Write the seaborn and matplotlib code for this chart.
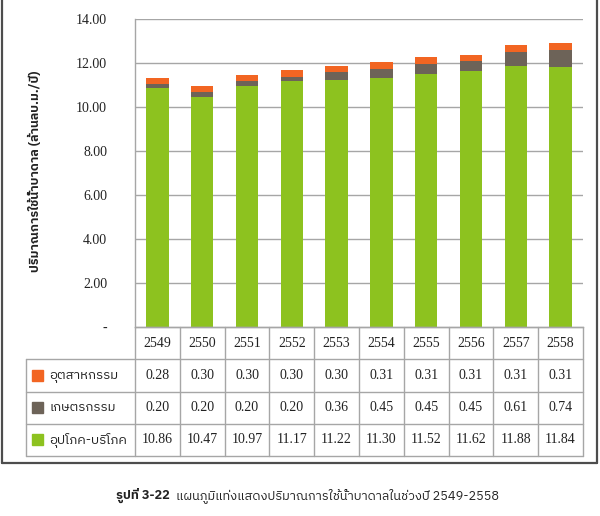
import numpy as np
import pandas as pd
import matplotlib
matplotlib.use("Agg")
import matplotlib.pyplot as plt
import seaborn as sns
from matplotlib import font_manager
from matplotlib.ft2font import FT2Font
from matplotlib.patches import Rectangle
from matplotlib.lines import Line2D

# ---------------- data ----------------
years = ["2549", "2550", "2551", "2552", "2553", "2554", "2555", "2556", "2557", "2558"]
industry = [0.28, 0.30, 0.30, 0.30, 0.30, 0.31, 0.31, 0.31, 0.31, 0.31]
agriculture = [0.20, 0.20, 0.20, 0.20, 0.36, 0.45, 0.45, 0.45, 0.61, 0.74]
domestic = [10.86, 10.47, 10.97, 11.17, 11.22, 11.30, 11.52, 11.62, 11.88, 11.84]
series_names = ["อุตสาหกรรม", "เกษตรกรรม", "อุปโภค-บริโภค"]
y_ticks = [0, 2, 4, 6, 8, 10, 12, 14]
y_tick_labels = ["-", "2.00", "4.00", "6.00", "8.00", "10.00", "12.00", "14.00"]
y_label = "ปริมาณการใช้น้ำบาดาล (ล้านลบ.ม./ปี)"
caption_bold = "รูปที่ 3-22"
caption_rest = "  แผนภูมิแท่งแสดงปริมาณการใช้น้ำบาดาลในช่วงปี 2549-2558"

C_IND = "#F26522"
C_AGR = "#6D6358"
C_DOM = "#8DC21F"
GRID = "#A6A6A6"

# ---------------- fonts ----------------
def find_thai_font():
    names = set()
    for f in font_manager.fontManager.ttflist:
        try:
            ft = FT2Font(f.fname)
            if ft.get_char_index(0x0E01) and ft.get_char_index(0x0E49):
                names.add(f.name)
        except Exception:
            pass
    names = sorted(names)
    pref = [n for n in names if "Thai" in n and "Looped" not in n]
    if pref:
        return pref[0]
    return names[0] if names else "DejaVu Sans"

THAI = find_thai_font()
sns.set_theme(style="white")
plt.rcParams["font.family"] = [THAI, "DejaVu Sans"]
SERIF = ["Liberation Serif", "DejaVu Serif"]
THAI_FAM = [THAI, "DejaVu Sans"]

W, H = 600, 516
fig = plt.figure(figsize=(6.0, 5.16), dpi=100)

def fx(px):
    return px / W

def fy(py):
    return 1 - py / H

# ---------------- bar axes ----------------
left, right, top, bottom = 135, 583, 19, 327
ax = fig.add_axes([fx(left), fy(bottom), fx(right - left), (bottom - top) / H])

df = pd.DataFrame({
    "year": years,
    "dom": domestic,
    "dom_agr": np.array(domestic) + np.array(agriculture),
    "total": np.array(domestic) + np.array(agriculture) + np.array(industry),
})
sns.barplot(data=df, x="year", y="total", color=C_IND, saturation=1, width=0.5, ax=ax, edgecolor="none")
sns.barplot(data=df, x="year", y="dom_agr", color=C_AGR, saturation=1, width=0.5, ax=ax, edgecolor="none")
sns.barplot(data=df, x="year", y="dom", color=C_DOM, saturation=1, width=0.5, ax=ax, edgecolor="none")

ax.set_xlim(-0.5, len(years) - 0.5)
ax.set_ylim(0, 14)
ax.set_yticks(y_ticks)
ax.set_yticklabels(y_tick_labels, fontfamily=SERIF, fontsize=10, color="#222222")
ax.tick_params(axis="y", length=0, pad=20)
ax.set_xticks([])
ax.set_xlabel("")
ax.set_ylabel("")
for t in y_ticks[1:]:
    ax.axhline(t, color=GRID, lw=1.0, zorder=0)
ax.set_axisbelow(True)
for s in ["top", "right"]:
    ax.spines[s].set_visible(False)
ax.spines["left"].set_color(GRID)
ax.spines["bottom"].set_color(GRID)
ax.spines["left"].set_linewidth(1.0)
ax.spines["bottom"].set_linewidth(1.0)

fig.text(fx(35), fy(171), y_label, rotation=90, ha="center", va="center",
         fontsize=9, fontweight="bold", family=THAI_FAM, color="#222222")

# ---------------- data table ----------------
col_w = (right - left) / len(years)
tab_left, tab_bottom = 26, 456
label_cols = (left - tab_left) / col_w
tax = fig.add_axes([fx(tab_left), fy(tab_bottom), fx(right - tab_left), (tab_bottom - bottom) / H])
x0 = -0.5 - label_cols
xr = len(years) - 0.5
tax.set_xlim(x0, xr)
tax.set_ylim(4, 0)
tax.axis("off")

def px2x(px):
    return (px - left) / col_w - 0.5

lk = dict(color=GRID, lw=1.0, clip_on=False)
tax.plot([-0.5, xr], [0, 0], **lk)
for r in [1, 2, 3, 4]:
    tax.plot([x0, xr], [r, r], **lk)
for i in range(len(years) + 1):
    tax.plot([i - 0.5, i - 0.5], [0, 4], **lk)
tax.plot([x0, x0], [1, 4], **lk)

for i, yr in enumerate(years):
    tax.text(i, 0.5, yr, ha="center", va="center", fontsize=10, family=SERIF, color="#222222")

rows = [industry, agriculture, domestic]
colors = [C_IND, C_AGR, C_DOM]
for r, (vals, name, c) in enumerate(zip(rows, series_names, colors)):
    yc = r + 1.5
    for i, v in enumerate(vals):
        tax.text(i, yc, f"{v:.2f}", ha="center", va="center", fontsize=10, family=SERIF, color="#222222")
    sw = 11 / col_w
    tax.add_patch(Rectangle((px2x(32), yc - 0.17), sw, 0.34, color=c, clip_on=False))
    tax.text(px2x(49), yc, name, ha="left", va="center", fontsize=9.5, family=THAI_FAM, color="#222222")

# ---------------- outer frame ----------------
frame_kw = dict(color="#4D4D4D", lw=1.6, transform=fig.transFigure)
fig.add_artist(Line2D([fx(2), fx(2)], [1, fy(463)], **frame_kw))
fig.add_artist(Line2D([fx(597), fx(597)], [1, fy(463)], **frame_kw))
fig.add_artist(Line2D([fx(2), fx(597)], [fy(463), fy(463)], **frame_kw))

# ---------------- caption ----------------
t1 = fig.text(fx(116), fy(496), caption_bold, ha="left", va="center", fontsize=9.2,
              fontweight="bold", family=THAI_FAM, color="#222222")
tax.annotate(caption_rest, xy=(1, 0.5), xycoords=t1, ha="left", va="center",
             fontsize=9.2, family=THAI_FAM, color="#222222", annotation_clip=False)

fig.savefig("out.png", dpi=100)
